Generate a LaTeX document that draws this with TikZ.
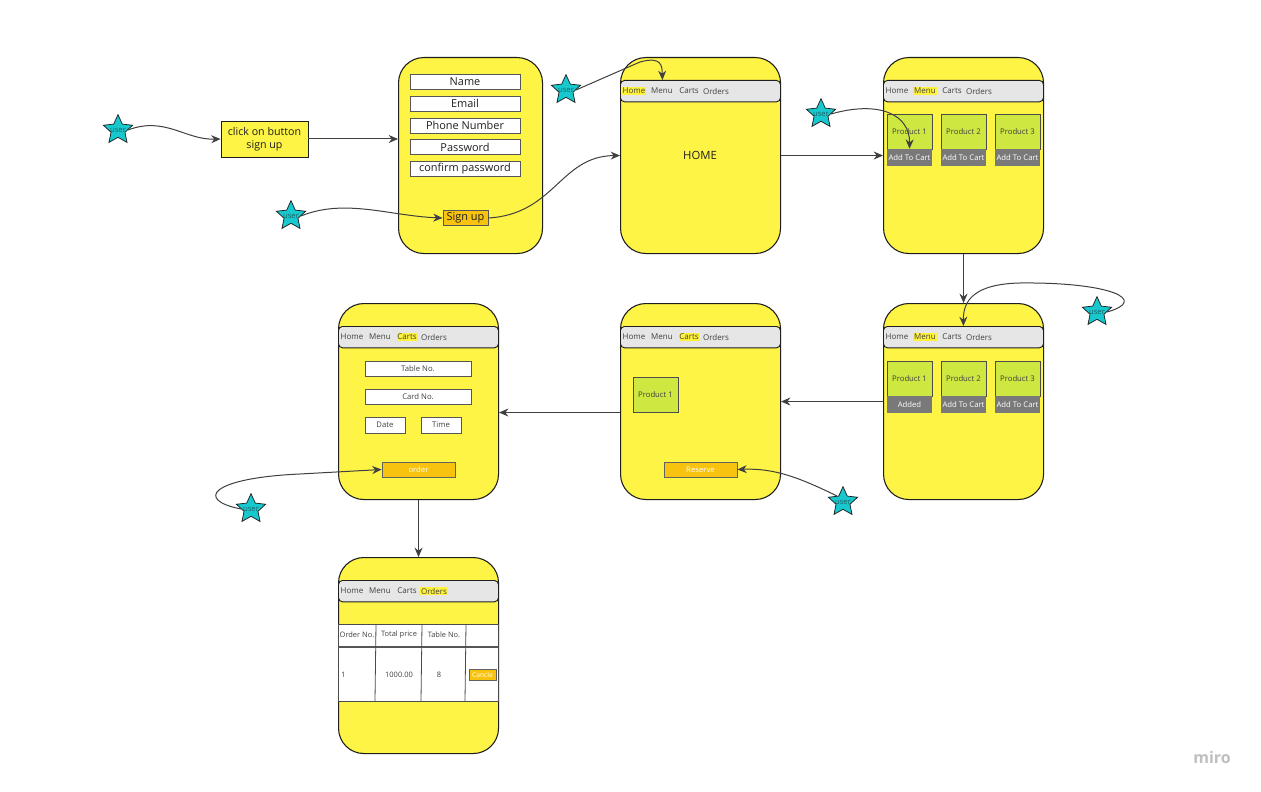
\documentclass[tikz,border=0pt]{standalone}
\usepackage{fontspec}
\setmainfont{Open Sans}
\usetikzlibrary{shapes.geometric,arrows.meta}
\definecolor{scr}{HTML}{FEF445}
\definecolor{btn}{HTML}{F8C30E}
\definecolor{prod}{HTML}{CEE741}
\definecolor{navg}{HTML}{E6E6E6}
\definecolor{hl}{HTML}{FFF23A}
\definecolor{starc}{HTML}{17C9CF}
\definecolor{ink}{HTML}{1E1E1E}
\definecolor{conn}{HTML}{404040}
\newcommand\navbar[4]{%
  \node[nav] (#1) at (#2,#3) {};
  \foreach \t/\dx [count=\i] in {Home/14,Menu/42,Carts/69,Orders/96}{%
    \ifnum\i=#4\relax
      \node[navitem,fill=hl] (#1-\i) at (#2+\dx,#3+11) {\t};
    \else
      \node[navitem] (#1-\i) at (#2+\dx,#3+11) {\t};
    \fi}%
}
\begin{document}
\begin{tikzpicture}[x=0.75pt,y=-0.75pt,
  screen/.style={draw=ink,line width=0.8pt,fill=scr,rounded corners=19pt,
    minimum width=120pt,minimum height=147pt,anchor=north west,inner sep=0pt},
  nav/.style={draw=ink,line width=0.7pt,fill=navg,rounded corners=3pt,
    minimum width=120pt,minimum height=16pt,anchor=north west,inner sep=0pt},
  navitem/.style={font=\fontsize{6}{7}\selectfont,text=ink!85,inner sep=0.6pt},
  field/.style={draw=ink!75,line width=0.65pt,fill=white,minimum width=82.5pt,
    minimum height=11.25pt,inner sep=0pt,font=\fontsize{8.2}{9}\selectfont,text=ink},
  sfield/.style={draw=ink!75,line width=0.65pt,fill=white,inner sep=0pt,
    font=\fontsize{5.8}{7}\selectfont,text=ink!85},
  obtn/.style={draw=ink!70,line width=0.65pt,fill=btn,inner sep=0pt,
    minimum width=54.75pt,minimum height=11.25pt,font=\fontsize{5.8}{7}\selectfont,text=white},
  prodbox/.style={draw=ink!80,line width=0.65pt,fill=prod,minimum width=33.75pt,
    minimum height=26.25pt,inner sep=0pt,font=\fontsize{5.8}{7}\selectfont,text=ink!85},
  cartbtn/.style={fill=gray!95!black,minimum width=33.75pt,minimum height=12.75pt,
    inner sep=0pt,font=\fontsize{5.8}{7}\selectfont,text=white},
  user/.style={star,star points=5,star point ratio=2.1,draw=ink,line width=0.55pt,
    fill=starc,minimum size=23pt,inner sep=0pt,
    label={[font=\fontsize{5.8}{6}\selectfont,text=ink!60!starc,inner sep=0pt]center:user}},
  cn/.style={draw=conn,line width=0.75pt,-{Stealth[length=7pt,width=6pt]}},
  txt/.style={font=\fontsize{5.6}{7}\selectfont,text=ink!85,inner sep=0pt}]
\useasboundingbox[fill=white] (0,0) rectangle (1261,792);

% ---------- sign-up screen ----------
\node[screen,minimum width=108pt] (signup) at (398,57) {};
\node[field] (fname) at (465,81.5) {Name};
\node[field] (femail) at (465,103.5) {Email};
\node[field] (fphone) at (465,125.5) {Phone Number};
\node[field] (fpass) at (465,147) {Password};
\node[field] (fconf) at (465,168.5) {confirm password};
\node[draw=ink!75,line width=0.65pt,fill=btn,minimum width=33.75pt,minimum height=11.25pt,
  inner sep=0pt,font=\fontsize{8.2}{9}\selectfont,text=ink] (sbtn) at (465.5,218) {Sign up};

\node[draw=ink,line width=0.65pt,fill=scr,minimum width=65.25pt,minimum height=27pt,
  inner sep=0pt,align=center,font=\fontsize{8}{10}\selectfont,text=ink] (click) at (264.5,139)
  {click on button\\sign up};

% ---------- home screen ----------
\node[screen] (home) at (620,57) {};
\navbar{hnav}{620}{80}{1}
\node[font=\fontsize{8.5}{10}\selectfont,text=ink] (homet) at (700,155) {HOME};

% ---------- menu screen ----------
\node[screen] (menu) at (883,57) {};
\navbar{mnav}{883}{80}{2}
\node[prodbox] (mp1) at (909.5,131.5) {Product 1};
\node[cartbtn] (mp1b) at (909.5,157.5) {Add To Cart};
\node[prodbox] (mp2) at (963.5,131.5) {Product 2};
\node[cartbtn] (mp2b) at (963.5,157.5) {Add To Cart};
\node[prodbox] (mp3) at (1017.5,131.5) {Product 3};
\node[cartbtn] (mp3b) at (1017.5,157.5) {Add To Cart};

% ---------- menu screen (added) ----------
\node[screen] (menu2) at (883,303) {};
\navbar{anav}{883}{326}{2}
\node[prodbox] (ap1) at (909.5,378.5) {Product 1};
\node[cartbtn] (ap1b) at (909.5,404.5) {Added};
\node[prodbox] (ap2) at (963.5,378.5) {Product 2};
\node[cartbtn] (ap2b) at (963.5,404.5) {Add To Cart};
\node[prodbox] (ap3) at (1017.5,378.5) {Product 3};
\node[cartbtn] (ap3b) at (1017.5,404.5) {Add To Cart};

% ---------- carts screen ----------
\node[screen] (carts) at (620,303) {};
\navbar{cnav}{620}{326}{3}
\node[prodbox] (cp1) at (655.5,394.5) {Product 1};
\node[obtn] (reserve) at (700.5,469.5) {Reserve};

% ---------- order form screen ----------
\node[screen] (form) at (338,303) {};
\navbar{fnav}{338}{326}{3}
\node[sfield,minimum width=79.5pt,minimum height=11.25pt] (ftable) at (418,368.5) {Table No.};
\node[sfield,minimum width=79.5pt,minimum height=11.25pt] (fcard) at (418,396.5) {Card No.};
\node[sfield,minimum width=30pt,minimum height=12pt] (fdate) at (385,425) {Date};
\node[sfield,minimum width=30pt,minimum height=12pt] (ftime) at (441,425) {Time};
\node[obtn] (obtnn) at (418.5,469.5) {order};

% ---------- orders screen ----------
\node[screen] (orders) at (338,557) {};
\navbar{onav}{338}{580}{4}
\node[draw=ink!80,line width=0.7pt,fill=white,minimum width=120pt,minimum height=57.75pt,
  anchor=north west,inner sep=0pt] (otab) at (338,624) {};
\draw[ink!75,line width=1.5pt] (338,646.5) -- (498,646.5);
\draw[ink!80,line width=0.6pt] (376,624) -- (375,701) (422,624) -- (421,701) (466,624) -- (465,701);
\node[txt] (h1) at (357,635) {Order No.};
\node[txt] (h2) at (399,635) {Total price};
\node[txt] (h3) at (444,635) {Table No.};
\node[txt,anchor=west] (r1) at (341,674.5) {1};
\node[txt] (r2) at (399,674.5) {1000.00};
\node[txt] (r3) at (439,674.5) {8};
\node[draw=ink!70,line width=0.6pt,fill=btn,minimum width=20.25pt,minimum height=8.25pt,
  inner sep=0pt,font=\fontsize{5}{6}\selectfont,text=white] (cancel) at (482.5,674.5) {Cancle};

% ---------- users ----------
\node[user] (u1) at (118,130) {};
\node[user] (u2) at (291,216) {};
\node[user] (u3) at (566,90) {};
\node[user] (u4) at (821,114) {};
\node[user] (u5) at (1097,312) {};
\node[user] (u6) at (843,502) {};
\node[user] (u7) at (251,509) {};

% ---------- connectors ----------
\draw[cn] (u1.east) .. controls (165,116) and (185,140) .. (click.west);
\draw[cn] (click.east) -- (click.east -| signup.west);
\draw[cn] (u2.east) .. controls (345,198) and (390,216) .. (sbtn.west);
\draw[cn] (sbtn.east) .. controls (555,214) and (560,156) .. (home.west);
\draw[cn] (u3.east) -- (640,62) .. controls (662,56) and (662,66) .. ([xshift=-28.5pt]hnav.north);
\draw[cn] (home.east) -- (menu.west);
\draw[cn] (u4.east) .. controls (880,100) and (910,115) .. (mp1b.north);
\draw[cn] (menu.south) -- (menu2.north);
\draw[cn] (u5.east) .. controls (1150,300) and (1110,282) .. (1020,283)
  .. controls (975,284) and (963,300) .. (anav.north);
\draw[cn] (menu2.west) -- (carts.east);
\draw[cn] ([yshift=-8.25pt]carts.west) -- ([yshift=-8.25pt]form.east);
\draw[cn] (u6.north west) .. controls (800,478) and (775,468) .. (reserve.east);
\draw[cn] (u7.west) .. controls (195,500) and (210,478) .. (300,474) -- (obtnn.west);
\draw[cn] (form.south) -- (orders.north);

% ---------- logo ----------
\node[font=\fontsize{12}{14}\selectfont\bfseries,text=gray!50] (logo) at (1212,757) {miro};
\end{tikzpicture}
\end{document}
